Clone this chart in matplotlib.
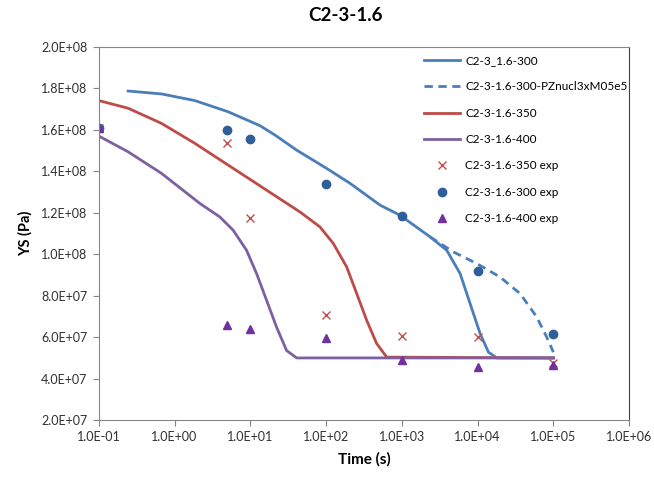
import matplotlib.pyplot as plt
from matplotlib.ticker import FuncFormatter, FixedLocator

plt.rcParams['font.family'] = ['Lato', 'DejaVu Sans']

# model curves (time s, yield stress Pa)
t_300 = [0.244, 0.673, 1.85, 5.1, 13.4, 21.1, 40.9, 101.6, 207, 515, 946, 2355, 3917, 5875, 7960, 10800, 13900, 17900, 1e5]
ys_300 = [1.787e8, 1.773e8, 1.741e8, 1.687e8, 1.62e8, 1.575e8, 1.502e8, 1.414e8, 1.342e8, 1.237e8, 1.188e8,
          1.084e8, 1.019e8, 9.07e7, 7.62e7, 6.17e7, 5.28e7, 5.0e7, 5.0e7]

t_300pz = [2355, 4800, 9750, 19800, 36400, 60400, 81800, 1e5]
ys_300pz = [1.084e8, 1.011e8, 9.55e7, 8.9e7, 8.1e7, 6.97e7, 6.0e7, 5.28e7]

t_350 = [0.1, 0.244, 0.673, 1.85, 5.1, 16.4, 45.2, 83, 124.5, 187, 254, 344, 466, 631, 1e5]
ys_350 = [1.741e8, 1.704e8, 1.631e8, 1.535e8, 1.43e8, 1.309e8, 1.204e8, 1.132e8, 1.052e8, 9.39e7, 8.1e7,
          6.81e7, 5.69e7, 5.04e7, 5.0e7]

t_400 = [0.1, 0.244, 0.673, 2.16, 3.96, 5.94, 8.93, 12.1, 16.4, 22.2, 30.1, 40.9, 1e5]
ys_400 = [1.57e8, 1.494e8, 1.39e8, 1.245e8, 1.18e8, 1.116e8, 1.019e8, 9.07e7, 7.78e7, 6.49e7, 5.36e7, 5.0e7, 5.0e7]

# experiments
t_exp = [0.1, 5, 10, 100, 1000, 10000, 100000]
exp_350 = [1.61e8, 1.536e8, 1.174e8, 7.05e7, 6.04e7, 5.99e7, 4.78e7]
exp_300 = [1.61e8, 1.6e8, 1.555e8, 1.338e8, 1.184e8, 9.2e7, 6.14e7]
exp_400 = [1.61e8, 6.57e7, 6.38e7, 5.94e7, 4.88e7, 4.54e7, 4.64e7]

fig = plt.figure(figsize=(6.54, 4.78), dpi=100)
ax = fig.add_axes([0.151, 0.121, 0.811, 0.781])

blue = '#4a7ebb'
red = '#be4b48'
purple = '#7e5f9f'

ax.plot(t_300, ys_300, color=blue, lw=2, label='C2-3_1.6-300')
ax.plot(t_300pz, ys_300pz, color=blue, lw=2, ls=(0, (3, 2)), label='C2-3-1.6-300-PZnucl3xM05e5')
ax.plot(t_350, ys_350, color=red, lw=2, label='C2-3-1.6-350')
ax.plot(t_400, ys_400, color=purple, lw=2, label='C2-3-1.6-400')
ax.plot(t_exp, exp_350, ls='none', marker='x', ms=6, mew=1, color='#c0504d', label='C2-3-1.6-350 exp')
ax.plot(t_exp, exp_300, ls='none', marker='o', ms=6, color='#2f5f98', label='C2-3-1.6-300 exp')
ax.plot(t_exp, exp_400, ls='none', marker='^', ms=6, color='#7030a0', label='C2-3-1.6-400 exp')

ax.set_xscale('log')
ax.set_xlim(0.1, 1e6)
ax.set_ylim(2e7, 2e8)
ax.xaxis.set_major_locator(FixedLocator([10.0 ** k for k in range(-1, 7)]))
ax.xaxis.set_minor_locator(FixedLocator([]))
ax.yaxis.set_major_locator(FixedLocator([2e7 * k for k in range(1, 11)]))


def sci(v, pos):
    s = '%.1E' % v
    mant, ex = s.split('E')
    return mant + 'E' + ex[0] + ex[1:].zfill(2)


ax.xaxis.set_major_formatter(FuncFormatter(sci))
ax.yaxis.set_major_formatter(FuncFormatter(sci))
ax.tick_params(labelsize=9, length=4, width=0.8, pad=4)
ax.tick_params(axis='both', colors='#868686', labelcolor='#303030')

for side in ['left', 'bottom', 'top']:
    ax.spines[side].set_color('#868686')
ax.spines['right'].set_color('#404040')

ax.set_xlabel('Time (s)', fontsize=11, fontweight='bold', labelpad=6)
ax.set_ylabel('YS (Pa)', fontsize=10.5, fontweight='bold', labelpad=6)
fig.suptitle('C2-3-1.6', x=0.528, y=0.985, fontsize=13.5, fontweight='bold')

leg = ax.legend(loc='upper left', bbox_to_anchor=(0.648, 0.885), bbox_transform=fig.transFigure,
                frameon=False, fontsize=8.5, labelspacing=1.3, handlelength=3.1, handletextpad=0.4,
                borderpad=0, borderaxespad=0)
# long label is cut off by the plot border, like the original
for txt in leg.get_texts():
    txt.set_clip_box(ax.bbox)
    txt.set_clip_on(True)

fig.savefig('out.png', dpi=100)
